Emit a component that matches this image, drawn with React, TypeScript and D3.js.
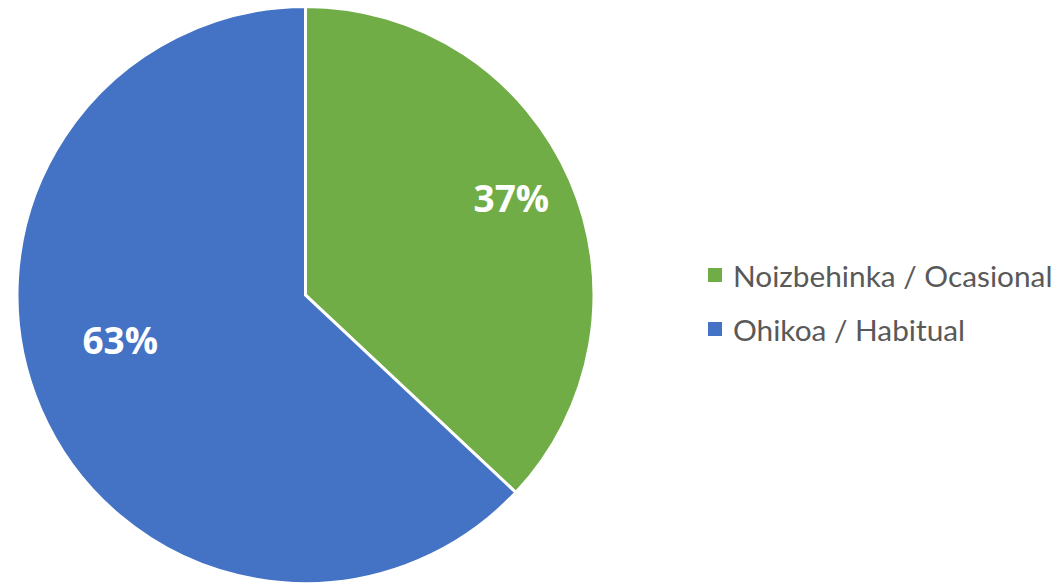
import React from "react";
import * as d3 from "d3";

const categories = ["Noizbehinka / Ocasional", "Ohikoa / Habitual"];
const values = [37, 63];
const colors = ["#70AD47", "#4472C4"];

// label placement (fraction of radius, angular nudge in degrees)
const labelRadiusFrac = [0.79, 0.66];
const labelAngleNudge = [-2, 10];

export default function App() {
  const width = 1057;
  const height = 585;
  const cx = 305.5;
  const cy = 295;
  const r = 288.5;

  const pie = d3.pie<number>().sort(null).value((d) => d);
  const arcs = pie(values);
  const arcGen = d3.arc<d3.PieArcDatum<number>>().innerRadius(0).outerRadius(r);
  const total = d3.sum(values);

  const legendX = 708;
  const legendY = [268, 322];

  return (
    <svg
      width={width}
      height={height}
      style={{ position: "absolute", left: 0, top: 0, background: "#fff" }}
    >
      <g transform={`translate(${cx},${cy})`}>
        {arcs.map((a, i) => (
          <path
            key={i}
            d={arcGen(a) || ""}
            fill={colors[i]}
            stroke="#fff"
            strokeWidth={3}
            strokeLinejoin="miter"
          />
        ))}
        {arcs.map((a, i) => {
          const mid = (a.startAngle + a.endAngle) / 2 + (labelAngleNudge[i] * Math.PI) / 180;
          const lr = r * labelRadiusFrac[i];
          const x = lr * Math.sin(mid);
          const y = -lr * Math.cos(mid);
          return (
            <text
              key={"l" + i}
              x={x}
              y={y}
              textAnchor="middle"
              dominantBaseline="central"
              fill="#fff"
              fontFamily="'Open Sans', sans-serif"
              fontWeight={700}
              fontSize={37}
            >
              {Math.round((values[i] / total) * 100)}%
            </text>
          );
        })}
      </g>
      {categories.map((c, i) => (
        <g key={"g" + i}>
          <rect x={legendX} y={legendY[i]} width={14} height={14} fill={colors[i]} />
          <text
            x={legendX + 25}
            y={legendY[i] + 7}
            dominantBaseline="central"
            fill="#595959"
            fontFamily="Lato, sans-serif"
            fontSize={29.8}
          >
            {c}
          </text>
        </g>
      ))}
    </svg>
  );
}
